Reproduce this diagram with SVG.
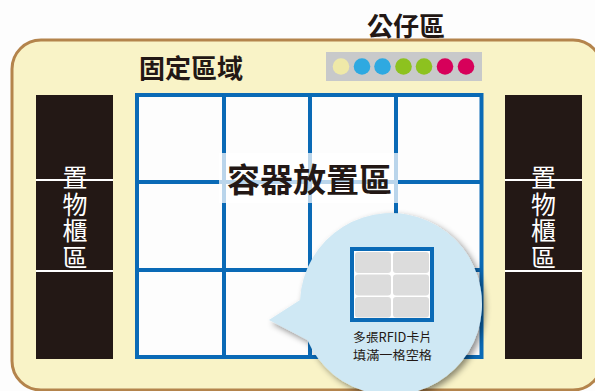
<svg xmlns="http://www.w3.org/2000/svg" width="595" height="391" viewBox="0 0 595 391">
  <style>
    .cjk { font-family: "Noto Sans CJK TC", "Noto Sans CJK SC", sans-serif; }
    .head { fill: #231815; font-weight: 700; font-size: 26px; }
    .shelf { fill: #231815; }
    .shelf-text { fill: #ffffff; font-size: 25px; text-anchor: middle; dominant-baseline: central; }
    .sep { stroke: #ffffff; stroke-width: 2; }
    .gl { stroke: #0a6ab6; stroke-width: 4; fill: none; }
    .cell { fill: #dcdcdc; }
    .note { fill: #231815; font-size: 12.5px; text-anchor: middle; }
  </style>
  <defs>
    <filter id="shadow" x="-20%" y="-20%" width="140%" height="140%">
      <feDropShadow dx="3" dy="3" stdDeviation="3" flood-color="#000" flood-opacity="0.45"/>
    </filter>
  </defs>

  <rect width="595" height="391" fill="#fdfdfd"/>

  <g id="panel">
    <rect x="12" y="40" width="590" height="350" rx="29" fill="#f9f3c7" stroke="#b4844c" stroke-width="3"/>
  </g>

  <g id="title-fixed">
    <text class="cjk head" x="139" y="66" dominant-baseline="central">固定區域</text>
  </g>

  <g id="title-toy">
    <text class="cjk head" x="367" y="24" dominant-baseline="central">公仔區</text>
  </g>

  <g id="toy-bar">
    <rect x="326" y="52" width="156" height="29" fill="#c8c9ca"/>
    <circle cx="341" cy="66.5" r="8.3" fill="#efe9a8"/>
    <circle cx="362" cy="66.5" r="8.3" fill="#2ea9e1"/>
    <circle cx="382.5" cy="66.5" r="8.3" fill="#2ea9e1"/>
    <circle cx="403.5" cy="66.5" r="8.3" fill="#8dc21f"/>
    <circle cx="424" cy="66.5" r="8.3" fill="#8dc21f"/>
    <circle cx="445" cy="66.5" r="8.3" fill="#d7005a"/>
    <circle cx="466" cy="66.5" r="8.3" fill="#d7005a"/>
  </g>

  <g id="shelf-left">
    <rect class="shelf" x="36" y="95" width="77" height="264"/>
    <line class="sep" x1="36" y1="180" x2="113" y2="180"/>
    <line class="sep" x1="36" y1="271" x2="113" y2="271"/>
    <text class="cjk shelf-text" x="75" y="176">置</text>
    <text class="cjk shelf-text" x="75" y="202.5">物</text>
    <text class="cjk shelf-text" x="75" y="229">櫃</text>
    <text class="cjk shelf-text" x="75" y="255.5">區</text>
  </g>

  <g id="shelf-right">
    <rect class="shelf" x="505" y="95" width="77" height="264"/>
    <line class="sep" x1="505" y1="180" x2="582" y2="180"/>
    <line class="sep" x1="505" y1="271" x2="582" y2="271"/>
    <text class="cjk shelf-text" x="543.5" y="176">置</text>
    <text class="cjk shelf-text" x="543.5" y="202.5">物</text>
    <text class="cjk shelf-text" x="543.5" y="229">櫃</text>
    <text class="cjk shelf-text" x="543.5" y="255.5">區</text>
  </g>

  <g id="container-grid">
    <rect x="137" y="95" width="344.5" height="262" fill="#fdfdfd"/>
    <line class="gl" x1="224" y1="95" x2="224" y2="357"/>
    <line class="gl" x1="310" y1="95" x2="310" y2="357"/>
    <line class="gl" x1="396" y1="95" x2="396" y2="357"/>
    <line class="gl" x1="137" y1="182" x2="481.5" y2="182"/>
    <line class="gl" x1="137" y1="270" x2="481.5" y2="270"/>
    <rect class="gl" x="137" y="95" width="344.5" height="262"/>
  </g>

  <g id="container-label">
    <rect x="219" y="153" width="179" height="50" fill="#ffffff" fill-opacity="0.72"/>
    <text class="cjk" x="309.5" y="178" font-size="33" font-weight="700" fill="#231815" text-anchor="middle" dominant-baseline="central">容器放置區</text>
  </g>

  <g id="callout">
    <path d="M300.1,300 L269,320 L307.4,340 A91,91 0 1 0 300.1,300 Z" fill="#cfe8f4" filter="url(#shadow)"/>
    <rect x="352" y="249" width="80" height="71" fill="#ffffff" stroke="#0a6ab6" stroke-width="4"/>
    <rect class="cell" x="355" y="252" width="36" height="21" rx="3"/>
    <rect class="cell" x="393" y="252" width="36" height="21" rx="3"/>
    <rect class="cell" x="355" y="274.5" width="36" height="21" rx="3"/>
    <rect class="cell" x="393" y="274.5" width="36" height="21" rx="3"/>
    <rect class="cell" x="355" y="297" width="36" height="20.5" rx="3"/>
    <rect class="cell" x="393" y="297" width="36" height="20.5" rx="3"/>
    <text class="cjk note" x="392.5" y="342" textLength="79" lengthAdjust="spacingAndGlyphs">多張RFID卡片</text>
    <text class="cjk note" x="392.5" y="360" textLength="79" lengthAdjust="spacingAndGlyphs">填滿一格空格</text>
  </g>
</svg>
